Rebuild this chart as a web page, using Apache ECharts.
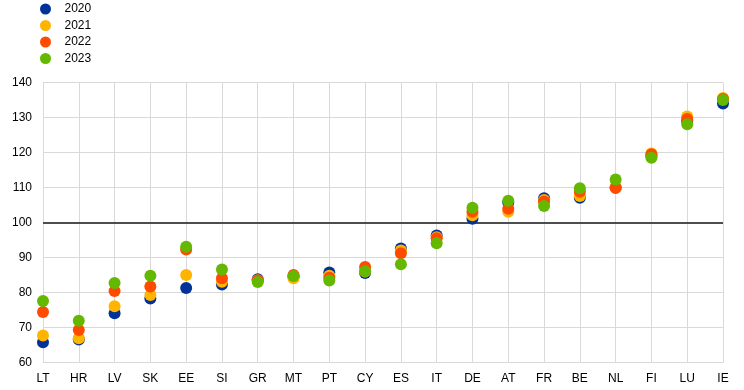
<!DOCTYPE html>
<html>
<head>
<meta charset="utf-8">
<script src="https://cdn.jsdelivr.net/npm/echarts@6/dist/echarts.min.js"></script>
<style>
html,body{margin:0;padding:0;background:#fff;}
#chart{width:744px;height:390px;}
</style>
</head>
<body>
<div id="chart"></div>
<script>
var categories = ['LT','HR','LV','SK','EE','SI','GR','MT','PT','CY','ES','IT','DE','AT','FR','BE','NL','FI','LU','IE'];
var yTicks = [60, 70, 80, 90, 100, 110, 120, 130, 140];
var seriesNames = ['2020','2021','2022','2023'];
var v2020 = [65.8, 66.6, 74.1, 78.3, 81.3, 82.3, 83.8, 84.5, 85.7, 85.6, 92.6, 96.3, 101.1, 105.8, 106.9, 107.1, 109.9, 119.0, 129.0, 134.0];
var v2021 = [67.7, 66.9, 76.1, 79.3, 85.0, 83.1, 83.5, 84.1, 84.8, 86.0, 92.0, 95.8, 102.1, 103.1, 106.4, 107.6, 110.0, 119.7, 130.3, 135.6];
var v2022 = [74.4, 69.3, 80.4, 81.7, 92.3, 84.1, 83.4, 85.0, 84.2, 87.3, 91.2, 95.5, 103.1, 103.9, 106.0, 108.8, 109.9, 119.5, 129.6, 135.3];
var v2023 = [77.6, 71.9, 82.7, 84.8, 93.1, 86.6, 83.0, 84.7, 83.4, 86.1, 88.1, 94.1, 104.2, 106.2, 104.7, 109.8, 112.3, 118.5, 128.1, 135.0];
var refValue = 100;

var colors = ['#003299', '#ffb400', '#ff4b00', '#65b800'];
var allValues = [v2020, v2021, v2022, v2023];
var font = 'Liberation Sans, Arial, sans-serif';

var chart = echarts.init(document.getElementById('chart'), null, {renderer: 'canvas'});
var series = seriesNames.map(function (name, i) {
  var s = {
    name: name,
    type: 'scatter',
    symbol: 'circle',
    symbolSize: 12,
    itemStyle: {color: colors[i], opacity: 1},
    data: allValues[i],
    z: 3 + i,
    silent: true,
    animation: false
  };
  if (i === 0) {
    s.markLine = {
      silent: true,
      symbol: ['none', 'none'],
      label: {show: false},
      lineStyle: {color: '#4d4d4d', width: 2, type: 'solid'},
      data: [{yAxis: refValue}],
      animation: false,
      z: 2
    };
  }
  return s;
});

chart.setOption({
  animation: false,
  backgroundColor: '#ffffff',
  color: colors,
  legend: {
    orient: 'vertical',
    left: 35,
    top: -2,
    itemWidth: 28,
    itemHeight: 11,
    itemGap: 4.5,
    icon: 'circle',
    data: seriesNames,
    textStyle: {fontFamily: font, fontSize: 12, color: '#000'}
  },
  grid: {left: 43, right: 21, top: 82.5, bottom: 27.5, containLabel: false},
  xAxis: {
    type: 'category',
    data: categories,
    boundaryGap: false,
    axisLine: {show: true, lineStyle: {color: '#d9d9d9', width: 1}},
    axisTick: {show: false},
    axisLabel: {fontFamily: font, fontSize: 12, color: '#000', margin: 10, interval: 0},
    splitLine: {show: true, lineStyle: {color: '#d9d9d9', width: 1}}
  },
  yAxis: {
    type: 'value',
    min: yTicks[0],
    max: yTicks[yTicks.length - 1],
    interval: 10,
    axisLine: {show: false},
    axisTick: {show: false},
    axisLabel: {fontFamily: font, fontSize: 12, color: '#000', margin: 11},
    splitLine: {show: true, lineStyle: {color: '#d9d9d9', width: 1}}
  },
  series: series
});
</script>
</body>
</html>
